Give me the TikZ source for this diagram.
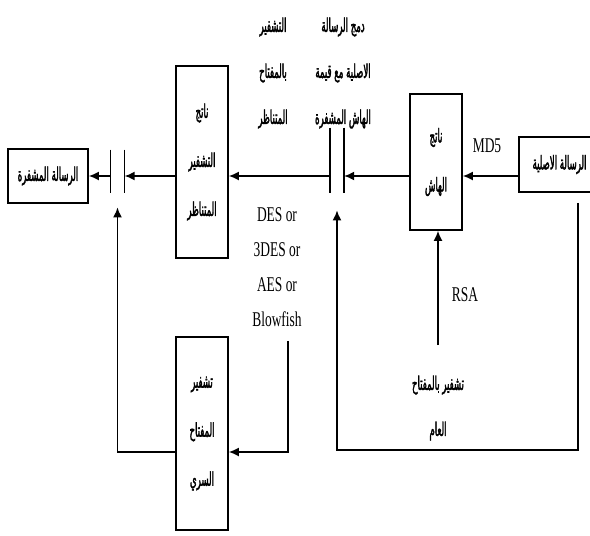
\documentclass[tikz,border=0pt]{standalone}
\usepackage{fontspec}
\setmainfont[FakeStretch=0.64]{Liberation Serif}
\newfontfamily\arabicfont[Script=Arabic,FakeStretch=0.45,FakeBold=1.6]{DejaVu Sans}
\TeXXeTstate=1
\usetikzlibrary{
  arrows.meta,
  positioning
}
\newcommand{\artxt}[1]{{\arabicfont\beginR #1\endR}}

\begin{document}
\begin{tikzpicture}[
  x=0.5pt, y=-0.5pt,
  box/.style ={draw,line width=0.8pt,inner sep=0pt,align=center,
               font=\fontsize{9.5}{24.5}\selectfont},
  lbl/.style ={inner sep=0pt,align=center,font=\fontsize{9.5}{23}\selectfont},
  latin/.style={inner sep=0pt,align=center,font=\fontsize{10.5}{17.5}\selectfont},
  bars/.style={inner sep=0pt,minimum width=6.75pt},
  arr/.style ={-{Latex[length=5pt,width=4.5pt]},line width=0.8pt},
]
\useasboundingbox (0,0) rectangle (590,536);
\coordinate (mid) at (0,176);
\coordinate (low) at (0,452);
\coordinate (bot) at (578,450);

% boxes
\node[box,minimum width=40pt,minimum height=27pt]   (msgenc)  at (48,176)
  {\artxt{الرسالة المشفرة}};
\node[box,minimum width=26pt,minimum height=96pt]   (symres)  at (202,162)
  {\artxt{ناتج}\\ \artxt{التشفير}\\ \artxt{المتناظر}};
\node[box,minimum width=26pt,minimum height=96.5pt] (secret)  at (202,433.5)
  {\artxt{تشفير}\\ \artxt{المفتاح}\\ \artxt{السري}};
\node[box,minimum width=26pt,minimum height=68pt]   (hashres) at (436,162)
  {\artxt{ناتج}\\ \artxt{الهاش}};
\node[box,minimum width=40.5pt,minimum height=27.5pt] (msgorig) at (559.5,164.5)
  {\artxt{الرسالة الاصلية}};

% joins
\node[bars,minimum height=21.5pt] (j1) at (117.5,171.5) {};
\node[bars,minimum height=32.5pt] (j2) at (337,160.5) {};
\draw[line width=0.8pt] (j1.north west) -- (j1.south west) (j1.north east) -- (j1.south east);
\draw[line width=0.8pt] (j2.north west) -- (j2.south west) (j2.north east) -- (j2.south east);

% labels
\node[lbl]   (symlbl)   at (273,73)  {\artxt{التشفير}\\ \artxt{بالمفتاح}\\ \artxt{المتناظر}};
\node[lbl]   (mergelbl) at (343,73)  {\artxt{دمج الرسالة}\\ \artxt{الاصلية مع قيمة}\\ \artxt{الهاش المشفرة}};
\node[lbl]   (pubkey)   at (438,408) {\artxt{تشفير بالمفتاح}\\ \artxt{العام}};
\node[latin] (algos)    at (277,267) {DES or\\ 3DES or\\ AES or\\ Blowfish};
\node[latin] (md5)      at (487,146) {MD5};
\node[latin] (rsa)      at (465,295) {RSA};

% connectors
\draw[arr] (msgorig.west |- mid) -- (hashres.east |- mid);
\draw[arr] (hashres.west |- mid) -- (j2.east |- mid);
\draw[arr] (j2.west |- mid) -- (symres.east |- mid);
\draw[arr] (symres.west |- mid) -- (j1.east |- mid);
\draw[arr] (j1.west |- mid) -- (msgenc.east |- mid);
\draw[arr,shorten <=5pt,shorten >=8.5pt] (msgorig.south -| bot) -- (bot) -| (j2.south);
\draw[arr,shorten >=7pt] (secret.west |- low) -| (j1.south);
\draw[arr,shorten <=7pt] ([xshift=5.5pt]algos.south) |- (secret.east |- low);
\draw[arr,shorten <=15pt] (pubkey.north) -- (pubkey.north |- hashres.south);
\end{tikzpicture}
\end{document}
